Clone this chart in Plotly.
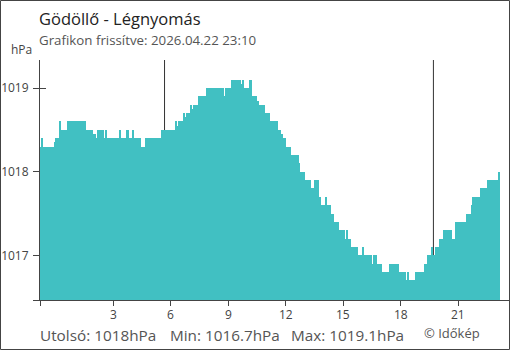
import plotly.graph_objects as go

# ---------------- data ----------------
title_text = "Gödöllő - Légnyomás"
subtitle_text = "Grafikon frissítve: 2026.04.22 23:10"
unit_text = "hPa"
footer_items = ["Utolsó: 1018hPa", "Min: 1016.7hPa", "Max: 1019.1hPa"]
credit_text = "© Időkép"

start_hour = -50 / 60      # 23:10 of the previous day
step_hours = 5 / 60        # one reading every 5 minutes

# air pressure (hPa), 5-minute readings from 23:10 to 23:10
pressure = [
    1018.3, 1018.4, 1018.3, 1018.3, 1018.3, 1018.3, 1018.3, 1018.3, 1018.3, 1018.35, 1018.4, 1018.4,
    1018.6, 1018.5, 1018.5, 1018.5, 1018.5, 1018.6, 1018.6, 1018.6, 1018.6, 1018.6, 1018.6, 1018.6,
    1018.6, 1018.6, 1018.6, 1018.6, 1018.6, 1018.5, 1018.5, 1018.5, 1018.5, 1018.45, 1018.45, 1018.4,
    1018.5, 1018.5, 1018.5, 1018.5, 1018.4, 1018.5, 1018.4, 1018.4, 1018.4, 1018.4, 1018.4, 1018.4,
    1018.4, 1018.4, 1018.5, 1018.4, 1018.4, 1018.4, 1018.5, 1018.5, 1018.4, 1018.4, 1018.5, 1018.4,
    1018.4, 1018.4, 1018.4, 1018.3, 1018.3, 1018.3, 1018.4, 1018.4, 1018.4, 1018.4, 1018.4, 1018.4,
    1018.4, 1018.4, 1018.4, 1018.4, 1018.5, 1018.5, 1018.5, 1018.5, 1018.5, 1018.5, 1018.5, 1018.5,
    1018.5, 1018.6, 1018.55, 1018.6, 1018.6, 1018.6, 1018.7, 1018.65, 1018.7, 1018.7, 1018.8, 1018.75,
    1018.8, 1018.8, 1018.8, 1018.9, 1018.9, 1018.9, 1018.9, 1018.9, 1019.0, 1019.0, 1019.0, 1019.0,
    1019.0, 1019.0, 1019.0, 1019.0, 1019.0, 1019.0, 1019.0, 1018.9, 1019.0, 1019.0, 1019.0, 1019.0,
    1019.1, 1019.1, 1019.1, 1019.1, 1019.1, 1019.1, 1019.05, 1019.1, 1019.0, 1019.0, 1019.0, 1019.1,
    1019.1, 1018.9, 1018.9, 1018.9, 1018.85, 1018.8, 1018.8, 1018.8, 1018.8, 1018.7, 1018.7, 1018.7,
    1018.6, 1018.6, 1018.6, 1018.6, 1018.6, 1018.5, 1018.5, 1018.45, 1018.4, 1018.4, 1018.3, 1018.3,
    1018.3, 1018.2, 1018.2, 1018.2, 1018.2, 1018.2, 1018.1, 1018.0, 1018.0, 1018.0, 1017.9, 1017.9,
    1017.9, 1017.9, 1017.8, 1017.8, 1017.9, 1017.9, 1017.9, 1017.7, 1017.6, 1017.6, 1017.6, 1017.7,
    1017.6, 1017.6, 1017.5, 1017.5, 1017.4, 1017.4, 1017.4, 1017.3, 1017.3, 1017.3, 1017.3, 1017.2,
    1017.3, 1017.2, 1017.2, 1017.1, 1017.1, 1017.1, 1017.1, 1017.0, 1017.0, 1017.0, 1017.1, 1017.0,
    1017.0, 1017.0, 1017.0, 1017.0, 1016.9, 1017.0, 1017.0, 1016.9, 1016.9, 1016.9, 1016.8, 1016.8,
    1016.8, 1016.8, 1016.8, 1016.9, 1016.9, 1016.9, 1016.9, 1016.9, 1016.9, 1016.8, 1016.8, 1016.8,
    1016.8, 1016.7, 1016.8, 1016.7, 1016.7, 1016.7, 1016.7, 1016.8, 1016.8, 1016.8, 1016.8, 1016.8,
    1016.8, 1016.9, 1016.9, 1017.0, 1017.0, 1017.1, 1017.0, 1017.0, 1017.1, 1017.1, 1017.2, 1017.2,
    1017.2, 1017.3, 1017.3, 1017.3, 1017.3, 1017.3, 1017.2, 1017.2, 1017.4, 1017.4, 1017.4, 1017.4,
    1017.4, 1017.4, 1017.4, 1017.5, 1017.5, 1017.5, 1017.6, 1017.7, 1017.7, 1017.7, 1017.7, 1017.7,
    1017.8, 1017.8, 1017.8, 1017.8, 1017.9, 1017.9, 1017.9, 1017.9, 1017.9, 1017.9, 1017.9, 1018.0,
]

sunrise_hour = 5 + 40 / 60
sunset_hour = 19 + 42 / 60

x_tick_hours = [3, 6, 9, 12, 15, 18, 21]
y_tick_values = [1017, 1018, 1019]
y_range = [1016.466, 1019.335]
x_range = [start_hour, 23.645]

# ---------------- styles / layout ----------------
W, H = 510, 350
ML, MR, MT, MB = 40, 1, 60, 50
PW, PH = W - ML - MR, H - MT - MB

BAR_COLOR = "#41C0C2"
AXIS_COLOR = "#444444"
FONT = "Open Sans"


def px(xp, yp):
    """page pixel -> paper coordinates"""
    return (xp - ML) / PW, (H - MB - yp) / PH


times = [start_hour + i * step_hours for i in range(len(pressure))]

fig = go.Figure()
fig.add_trace(go.Bar(
    x=times, y=[p - y_range[0] for p in pressure], base=y_range[0],
    width=step_hours, offset=0,
    marker=dict(color=BAR_COLOR, line=dict(width=0)),
    hoverinfo="skip", showlegend=False,
))
# invisible trace to activate the overlay axis used for inner tick marks
fig.add_trace(go.Scatter(x=[None], y=[None], yaxis="y2", showlegend=False, hoverinfo="skip"))

annotations = []


def add_text(text, xp, yp, size, color, anchor="left"):
    x, y = px(xp, yp)
    annotations.append(dict(
        text=text, x=x, y=y, xref="paper", yref="paper", showarrow=False,
        xanchor=anchor, yanchor="middle", borderpad=0,
        font=dict(family=FONT, size=size, color=color),
    ))


add_text(title_text, 38, 19, 16.5, "#222222")
add_text(subtitle_text, 38, 40, 13.3, "#555555")
add_text(unit_text, 10, 50, 12, "#444444")
footer_x = [39, 169, 290]
for t, xp in zip(footer_items, footer_x):
    add_text(t, xp, 335, 15.3, "#555555")
add_text(credit_text, 423, 333, 13, "#555555")

# hour labels of the x axis, placed at their axis values
_, label_y = px(0, 314)
for h in x_tick_hours:
    annotations.append(dict(
        text=str(h), x=h, y=label_y, xref="x", yref="paper", showarrow=False,
        xanchor="center", yanchor="middle", borderpad=0,
        font=dict(family=FONT, size=12, color=AXIS_COLOR),
    ))

bx0, by1 = px(0.5, 0.5)
bx1, by0 = px(W - 0.5, H - 0.5)
shapes = [
    dict(type="rect", xref="paper", yref="paper", x0=bx0, x1=bx1, y0=by0, y1=by1,
         line=dict(color=AXIS_COLOR, width=1), layer="above"),
]
for hr in (sunrise_hour, sunset_hour):
    shapes.append(dict(type="line", xref="x", yref="paper", x0=hr, x1=hr, y0=0, y1=1,
                       line=dict(color="#333333", width=1), layer="below"))

fig.update_layout(
    width=W, height=H,
    margin=dict(l=ML, r=MR, t=MT, b=MB, pad=0),
    paper_bgcolor="white", plot_bgcolor="white",
    bargap=0,
    font=dict(family=FONT, color=AXIS_COLOR),
    annotations=annotations,
    shapes=shapes,
    xaxis=dict(
        range=x_range, showgrid=False, zeroline=False,
        showline=True, linecolor=AXIS_COLOR, linewidth=1,
        ticks="outside", ticklen=5, tickcolor=AXIS_COLOR, tickwidth=1,
        tickvals=[x_range[0]] + x_tick_hours,
        showticklabels=False,
    ),
    yaxis=dict(
        range=y_range, showgrid=False, zeroline=False,
        showline=True, linecolor=AXIS_COLOR, linewidth=1,
        ticks="outside", ticklen=6, tickcolor=AXIS_COLOR, tickwidth=1,
        tickvals=[y_range[0]] + y_tick_values,
        ticktext=[""] + [str(v) for v in y_tick_values],
        tickfont=dict(family=FONT, size=12, color=AXIS_COLOR),
        ticklabelstandoff=2,
    ),
    yaxis2=dict(
        range=y_range, overlaying="y", side="left", showgrid=False, zeroline=False,
        showline=False, ticks="inside", ticklen=6, tickcolor=AXIS_COLOR, tickwidth=1,
        tickvals=y_tick_values, showticklabels=False, layer="below traces",
    ),
)

fig.write_html("out.html")
